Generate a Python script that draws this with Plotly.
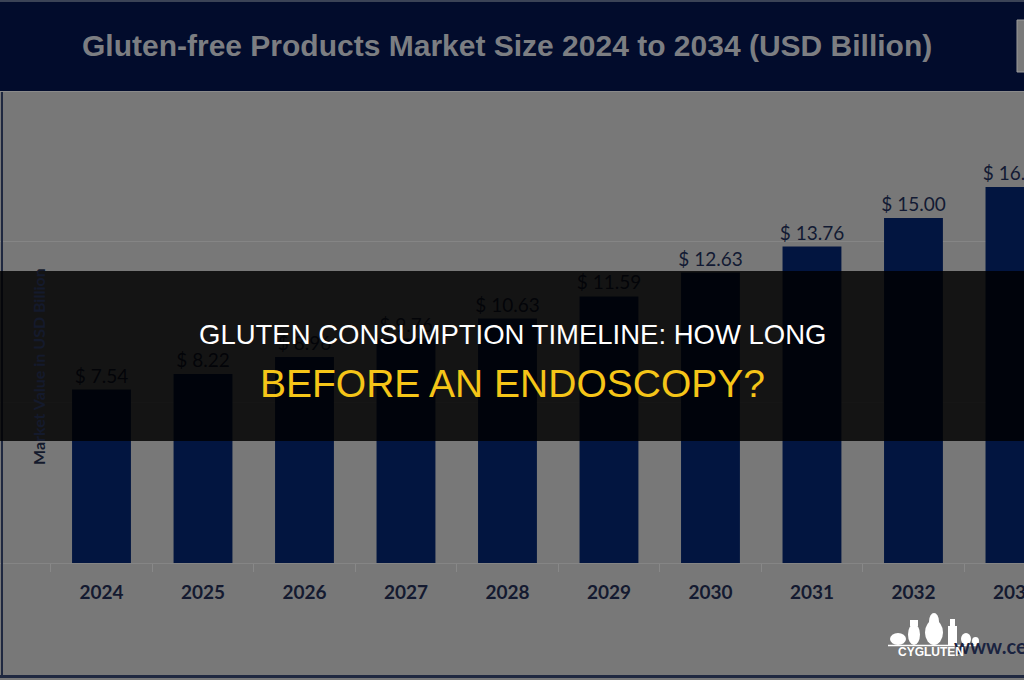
import plotly.graph_objects as go

# ---- data ----
years = ["2024", "2025", "2026", "2027", "2028", "2029", "2030", "2031", "2032", "2033"]
market_value = [7.54, 8.22, 8.96, 9.76, 10.63, 11.59, 12.63, 13.76, 15.00, 16.35]
chart_title = "Gluten-free Products Market Size 2024 to 2034 (USD Billion)"
y_title = "Market Value in USD Billion"
headline_1 = "GLUTEN CONSUMPTION TIMELINE: HOW LONG"
headline_2 = "BEFORE AN ENDOSCOPY?"
source_text = "www.cervicornconsulting.com"
brand = "CYGLUTEN"

W, H = 1024, 680
def X(px):
    return px / W
def Y(py):
    return 1 - py / H

BG = "#787878"
BAR = "#021540"
INK = "#141a30"

fig = go.Figure()
fig.add_trace(go.Bar(
    x=years, y=market_value,
    marker=dict(color=BAR, line=dict(width=0)),
    texttemplate="$ %{y:.2f}", textposition="outside",
    textfont=dict(family="Lato", size=19, color="#121a33"),
    constraintext="none", cliponaxis=False,
    hoverinfo="skip",
))

shapes = []
# dark title banner
shapes.append(dict(type="rect", xref="paper", yref="paper", x0=0, x1=1, y0=Y(91), y1=1,
                   fillcolor="#020c2c", line=dict(width=0), layer="above"))
shapes.append(dict(type="line", xref="paper", yref="paper", x0=0, x1=1, y0=Y(1), y1=Y(1),
                   line=dict(color="#3b4356", width=2), layer="above"))
shapes.append(dict(type="line", xref="paper", yref="paper", x0=0, x1=1, y0=Y(91.5), y1=Y(91.5),
                   line=dict(color="#8a8a8a", width=1), layer="above"))
# clipped element at right of banner
shapes.append(dict(type="rect", xref="paper", yref="paper", x0=X(1017), x1=X(1030), y0=Y(72), y1=Y(20),
                   fillcolor="#7a7a7a", line=dict(color="#9a9a9a", width=1), layer="above"))
# frame
shapes.append(dict(type="line", xref="paper", yref="paper", x0=X(2), x1=X(2), y0=Y(92), y1=Y(677),
                   line=dict(color="#1f2840", width=2), layer="above"))
shapes.append(dict(type="line", xref="paper", yref="paper", x0=0, x1=1, y0=Y(676.5), y1=Y(676.5),
                   line=dict(color="#1f2840", width=3), layer="above"))
# dark overlay band
shapes.append(dict(type="rect", xref="paper", yref="paper", x0=0, x1=1, y0=Y(441), y1=Y(271),
                   fillcolor="rgba(0,0,0,0.83)", line=dict(width=0), layer="above"))

# simple logo icons (white)
def rect(x0, y0, x1, y1, r=False):
    return dict(type="circle" if r else "rect", xref="paper", yref="paper",
                x0=X(x0), x1=X(x1), y0=Y(y1), y1=Y(y0),
                fillcolor="white", line=dict(width=0), layer="above")
shapes += [
    rect(890, 633, 906, 645, r=True),
    rect(908, 624, 920, 645, r=True),
    rect(910, 620, 918, 626),
    rect(925, 620, 943, 645, r=True),
    rect(929, 613, 939, 630, r=True),
    rect(948, 626, 957, 645),
    rect(950, 619, 955, 627),
    rect(961, 633, 971, 645, r=True),
    rect(972, 637, 979, 645, r=True),
    dict(type="line", xref="paper", yref="paper", x0=X(888), x1=X(980), y0=Y(645.5), y1=Y(645.5),
         line=dict(color="white", width=1.5), layer="above"),
]

annotations = [
    dict(text=chart_title, x=X(507), y=Y(46), xref="paper", yref="paper", showarrow=False,
         xanchor="center", yanchor="middle",
         font=dict(family="Liberation Sans, Arial", size=30, weight="bold", color="#7c7e82")),
    dict(text=y_title, x=X(38), y=Y(367), xref="paper", yref="paper", showarrow=False,
         textangle=-90, xanchor="center", yanchor="middle",
         font=dict(family="Lato", size=16, weight="bold", color="#141a2c")),
    dict(text=source_text, x=X(952), y=Y(646), xref="paper", yref="paper", showarrow=False,
         xanchor="left", yanchor="middle",
         font=dict(family="Lato", size=20, weight="bold", color="#1a2340")),
    dict(text=brand, x=X(931), y=Y(652), xref="paper", yref="paper", showarrow=False,
         xanchor="center", yanchor="middle",
         font=dict(family="Liberation Sans, Arial", size=12, weight="bold", color="white")),
    dict(text=headline_1, x=X(512), y=Y(334), xref="paper", yref="paper", showarrow=False,
         xanchor="center", yanchor="middle",
         font=dict(family="Liberation Sans, Arial", size=27.5, color="white")),
    dict(text=headline_2, x=X(512), y=Y(383), xref="paper", yref="paper", showarrow=False,
         xanchor="center", yanchor="middle",
         font=dict(family="Liberation Sans, Arial", size=39, color="#f5c518")),
]

px_per_unit = 23.0
zero_px = 563
fig.update_layout(
    width=W, height=H, margin=dict(l=0, r=0, t=0, b=0, autoexpand=False),
    paper_bgcolor=BG, plot_bgcolor=BG,
    showlegend=False, bargap=0.42,
    shapes=shapes, annotations=annotations,
    xaxis=dict(type="category", range=[-1.0, 9.089], showgrid=False, zeroline=False,
               showline=True, linecolor="#858585", linewidth=1,
               ticks="outside", tickson="boundaries", ticklen=8, tickcolor="#888888",
               ticklabelstandoff=12, automargin=False,
               tickfont=dict(family="Lato", size=19, weight="bold", color=INK)),
    yaxis=dict(domain=[(H - zero_px) / H, 1], range=[0, zero_px / px_per_unit],
               dtick=7, showgrid=True, gridcolor="#858585", gridwidth=1, automargin=False,
               zeroline=False, showticklabels=False, ticks=""),
)

fig.write_html("out.html")
